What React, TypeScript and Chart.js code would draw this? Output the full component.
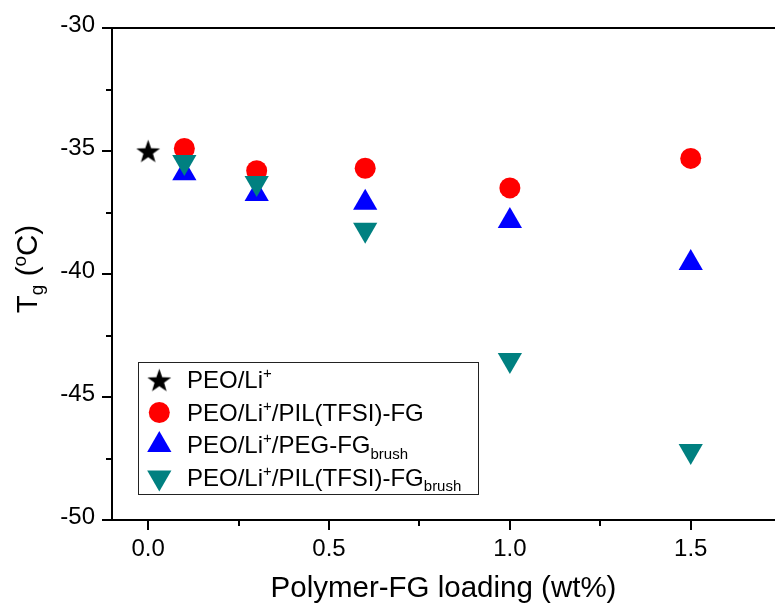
import React, { useEffect, useRef } from "react";
import { Chart, registerables } from "chart.js";

Chart.register(...registerables);

// ---- data ----
const peoLiX = [0.0];
const peoLiY = [-35.0];
const loadingX = [0.1, 0.3, 0.6, 1.0, 1.5];
const pilFgY = [-34.9, -35.8, -35.7, -36.5, -35.3];
const pegBrushY = [-35.9, -36.75, -37.1, -37.85, -39.55];
const pilBrushY = [-35.45, -36.3, -38.2, -43.5, -47.2];

const xMajorTicks = [0.0, 0.5, 1.0, 1.5];
const xMinorTicks = [0.25, 0.75, 1.25];
const yMajorTicks = [-50, -45, -40, -35, -30];
const yMinorTicks = [-47.5, -42.5, -37.5, -32.5];

type Seg = { t: string; sup?: boolean; sub?: boolean };
const legendLabels: Seg[][] = [
  [{ t: "PEO/Li" }, { t: "+", sup: true }],
  [{ t: "PEO/Li" }, { t: "+", sup: true }, { t: "/PIL(TFSI)-FG" }],
  [{ t: "PEO/Li" }, { t: "+", sup: true }, { t: "/PEG-FG" }, { t: "brush", sub: true }],
  [{ t: "PEO/Li" }, { t: "+", sup: true }, { t: "/PIL(TFSI)-FG" }, { t: "brush", sub: true }],
];
const yTitle: Seg[] = [{ t: "T" }, { t: "g", sub: true }, { t: " (" }, { t: "o", sup: true }, { t: "C)" }];
const xTitle = "Polymer-FG loading (wt%)";

const FONT = "'Liberation Sans', Arial, Helvetica, sans-serif";
const RED = "#ff0000";
const BLUE = "#0000ff";
const TEAL = "#008080";

function makeStar(R: number, color: string): HTMLCanvasElement {
  const size = Math.ceil(R * 2 + 2);
  const c = document.createElement("canvas");
  c.width = size;
  c.height = size;
  const g = c.getContext("2d")!;
  const cx = size / 2;
  const cy = size / 2 + R * 0.1;
  const r = R * 0.4;
  g.beginPath();
  for (let i = 0; i < 10; i++) {
    const ang = -Math.PI / 2 + (i * Math.PI) / 5;
    const rr = i % 2 === 0 ? R : r;
    const px = cx + Math.cos(ang) * rr;
    const py = cy + Math.sin(ang) * rr;
    if (i === 0) g.moveTo(px, py);
    else g.lineTo(px, py);
  }
  g.closePath();
  g.fillStyle = color;
  g.fill();
  return c;
}

function drawSegs(ctx: CanvasRenderingContext2D, segs: Seg[], x: number, y: number, size: number, small: number, supOff: number, subOff: number) {
  let cx = x;
  for (const s of segs) {
    const fs = s.sup || s.sub ? small : size;
    ctx.font = `${fs}px ${FONT}`;
    const dy = s.sup ? -supOff : s.sub ? subOff : 0;
    ctx.fillText(s.t, cx, y + dy);
    cx += ctx.measureText(s.t).width;
  }
  return cx - x;
}

function measureSegs(ctx: CanvasRenderingContext2D, segs: Seg[], size: number, small: number) {
  let w = 0;
  for (const s of segs) {
    const fs = s.sup || s.sub ? small : size;
    ctx.font = `${fs}px ${FONT}`;
    w += ctx.measureText(s.t).width;
  }
  return w;
}

export default function App() {
  const ref = useRef<HTMLCanvasElement | null>(null);

  useEffect(() => {
    if (!ref.current) return;
    const star = makeStar(12.5, "#000000");

    const markers: { kind: string; color: string }[] = [
      { kind: "star", color: "#000" },
      { kind: "circle", color: RED },
      { kind: "triangle", color: BLUE },
      { kind: "invtriangle", color: TEAL },
    ];

    const framePlugin = {
      id: "framePlugin",
      afterDraw(chart: any) {
        const { ctx, chartArea: a, scales } = chart;
        const x = scales.x;
        const y = scales.y;
        ctx.save();
        ctx.strokeStyle = "#000";
        ctx.lineWidth = 2;
        ctx.lineCap = "butt";
        ctx.beginPath();
        // frame: left, bottom, top
        ctx.moveTo(a.left, a.top - 1);
        ctx.lineTo(a.left, a.bottom + 1);
        ctx.moveTo(a.left - 1, a.bottom);
        ctx.lineTo(a.right, a.bottom);
        ctx.moveTo(a.left - 1, a.top);
        ctx.lineTo(a.right, a.top);
        // x ticks
        for (const v of xMajorTicks) {
          const px = Math.round(x.getPixelForValue(v));
          ctx.moveTo(px, a.bottom);
          ctx.lineTo(px, a.bottom + 10);
        }
        for (const v of xMinorTicks) {
          const px = Math.round(x.getPixelForValue(v));
          ctx.moveTo(px, a.bottom);
          ctx.lineTo(px, a.bottom + 6);
        }
        for (const v of yMajorTicks) {
          const py = Math.round(y.getPixelForValue(v));
          ctx.moveTo(a.left, py);
          ctx.lineTo(a.left - 10, py);
        }
        for (const v of yMinorTicks) {
          const py = Math.round(y.getPixelForValue(v));
          ctx.moveTo(a.left, py);
          ctx.lineTo(a.left - 6, py);
        }
        ctx.stroke();

        ctx.fillStyle = "#000";
        ctx.textBaseline = "alphabetic";
        ctx.textAlign = "left";

        // x title
        ctx.font = `29.5px ${FONT}`;
        const xw = ctx.measureText(xTitle).width;
        ctx.fillText(xTitle, (a.left + a.right) / 2 - xw / 2, 597);

        // y title (rotated)
        const yw = measureSegs(ctx, yTitle, 29.5, 19);
        ctx.save();
        ctx.translate(37, (a.top + a.bottom) / 2 - 5);
        ctx.rotate(-Math.PI / 2);
        drawSegs(ctx, yTitle, -yw / 2, 0, 29.5, 19, 11.5, 6);
        ctx.restore();

        // legend
        const bx = 138.5, by = 362.5, bw = 340, bh = 132;
        ctx.fillStyle = "#fff";
        ctx.fillRect(bx, by, bw, bh);
        ctx.lineWidth = 1;
        ctx.strokeStyle = "#222";
        ctx.strokeRect(bx, by, bw, bh);
        const rows = [380, 412.5, 445, 477.5];
        const mx = 159.3;
        markers.forEach((m, i) => {
          const cy = rows[i];
          ctx.fillStyle = m.color;
          ctx.beginPath();
          if (m.kind === "star") {
            ctx.drawImage(star, mx - star.width / 2, cy - star.height / 2);
          } else if (m.kind === "circle") {
            ctx.arc(mx, cy, 10.5, 0, Math.PI * 2);
            ctx.fill();
          } else {
            const r = 14;
            const rot = m.kind === "invtriangle" ? Math.PI : 0;
            let ang = rot;
            ctx.moveTo(mx + Math.sin(ang) * r, cy - Math.cos(ang) * r);
            ang += (2 * Math.PI) / 3;
            ctx.lineTo(mx + Math.sin(ang) * r, cy - Math.cos(ang) * r);
            ang += (2 * Math.PI) / 3;
            ctx.lineTo(mx + Math.sin(ang) * r, cy - Math.cos(ang) * r);
            ctx.closePath();
            ctx.fill();
          }
          ctx.fillStyle = "#000";
          drawSegs(ctx, legendLabels[i], 187, cy + 8.2, 24, 15, 10, 5.5);
        });
        ctx.restore();
      },
    };

    const chart = new Chart(ref.current, {
      type: "scatter",
      data: {
        datasets: [
          {
            label: "PEO/Li+",
            data: peoLiX.map((v, i) => ({ x: v, y: peoLiY[i] })),
            pointStyle: star as any,
            pointRadius: 12,
            backgroundColor: "#000",
            borderColor: "#000",
            borderWidth: 0,
            order: 4,
          },
          {
            label: "PEO/Li+/PIL(TFSI)-FG",
            data: loadingX.map((v, i) => ({ x: v, y: pilFgY[i] })),
            pointStyle: "circle",
            pointRadius: 10.5,
            backgroundColor: RED,
            borderColor: RED,
            borderWidth: 0,
            order: 3,
          },
          {
            label: "PEO/Li+/PEG-FGbrush",
            data: loadingX.map((v, i) => ({ x: v, y: pegBrushY[i] })),
            pointStyle: "triangle",
            pointRadius: 14,
            backgroundColor: BLUE,
            borderColor: BLUE,
            borderWidth: 0,
            order: 2,
          },
          {
            label: "PEO/Li+/PIL(TFSI)-FGbrush",
            data: loadingX.map((v, i) => ({ x: v, y: pilBrushY[i] })),
            pointStyle: "triangle",
            rotation: 180,
            pointRadius: 14,
            backgroundColor: TEAL,
            borderColor: TEAL,
            borderWidth: 0,
            order: 1,
          },
        ],
      },
      options: {
        animation: false,
        responsive: false,
        devicePixelRatio: 1,
        layout: { autoPadding: false, padding: { top: 28, left: 0, right: 0, bottom: 0 } },
        plugins: {
          legend: { display: false },
          tooltip: { enabled: false },
          title: { display: false },
        },
        scales: {
          x: {
            type: "linear",
            min: -0.1,
            max: 1.733,
            grid: { display: false, drawTicks: false },
            border: { display: false },
            afterBuildTicks: (s: any) => {
              s.ticks = xMajorTicks.map((v) => ({ value: v }));
            },
            afterFit: (s: any) => {
              s.height = 87;
              s.paddingLeft = 0;
              s.paddingRight = 0;
              s.paddingTop = 0;
              s.paddingBottom = 0;
            },
            ticks: {
              color: "#000",
              padding: 15,
              maxRotation: 0,
              autoSkip: false,
              font: { family: FONT, size: 24 },
              callback: (v: any) => Number(v).toFixed(1),
            },
          },
          y: {
            type: "linear",
            min: -50,
            max: -30,
            grid: { display: false, drawTicks: false },
            border: { display: false },
            afterBuildTicks: (s: any) => {
              s.ticks = yMajorTicks.map((v) => ({ value: v }));
            },
            afterFit: (s: any) => {
              s.width = 112;
              s.paddingLeft = 0;
              s.paddingRight = 0;
              s.paddingTop = 0;
              s.paddingBottom = 0;
            },
            ticks: {
              color: "#000",
              padding: 17,
              labelOffset: -3,
              autoSkip: false,
              font: { family: FONT, size: 24 },
              callback: (v: any) => String(v),
            },
          },
        },
      },
      plugins: [framePlugin],
    } as any);

    return () => chart.destroy();
  }, []);

  return (
    <div style={{ position: "absolute", left: 0, top: 0, width: 775, height: 607, background: "#fff" }}>
      <canvas ref={ref} width={775} height={607} style={{ display: "block" }} />
    </div>
  );
}
